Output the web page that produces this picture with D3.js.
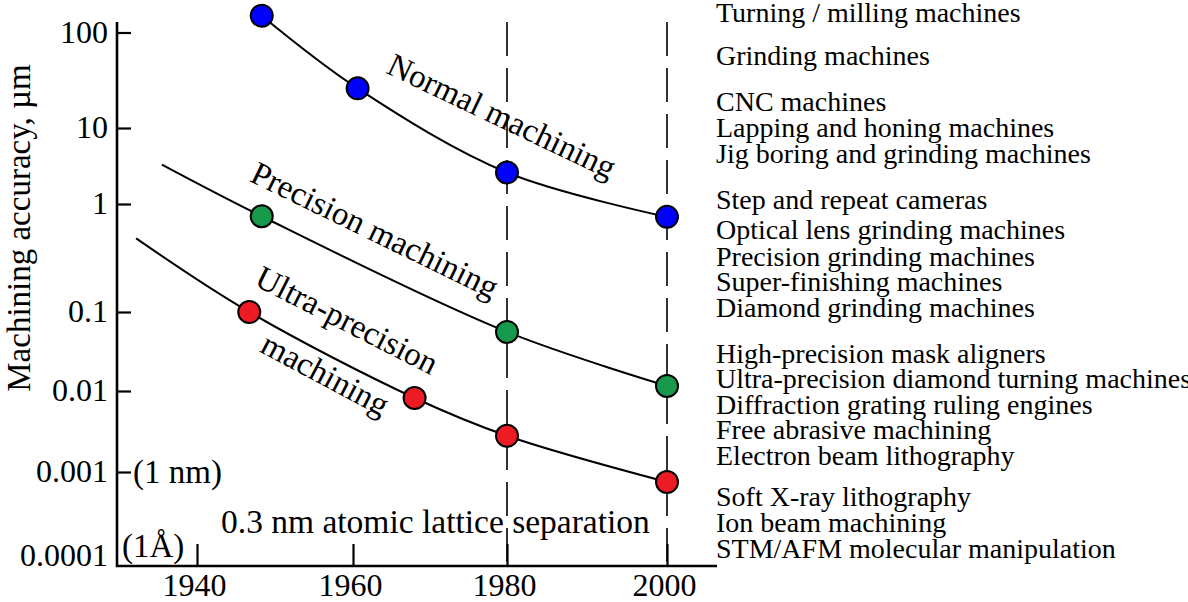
<!DOCTYPE html>
<html>
<head>
<meta charset="utf-8">
<script src="https://cdn.jsdelivr.net/npm/d3@7"></script>
<style>
  html, body { margin: 0; padding: 0; background: #fff; }
  svg { display: block; }
  text { font-family: "Liberation Serif", "Times New Roman", serif; fill: #000; }
</style>
</head>
<body>
<svg id="chart" width="1188" height="602"></svg>
<script>
// ---------------- DATA ----------------
const yTickValues = [100, 10, 1, 0.1, 0.01, 0.001, 0.0001];
const yTickLabels = ["100", "10", "1", "0.1", "0.01", "0.001", "0.0001"];
const xTickValues = [1940, 1960, 1980, 2000];
const xTickLabels = ["1940", "1960", "1980", "2000"];
const dashedYears = [1980, 2000];

// Normal machining (blue)
const normalYears = [1948.3, 1960.6, 1980, 2000];
const normalAcc   = [150, 26, 2.6, 0.76];
// Precision machining (green) - curve starts before first marker
const precisionStart = [1935.5, 3.3];
const precisionYears = [1948.3, 1980, 2000];
const precisionAcc   = [0.77, 0.056, 0.0116];
// Ultra-precision machining (red)
const ultraStart = [1932.2, 0.48];
const ultraYears = [1946.7, 1968.0, 1980, 2000];
const ultraAcc   = [0.1, 0.0082, 0.0028, 0.00076];

const machineList = [
  "Turning / milling machines",
  "Grinding machines",
  "CNC machines",
  "Lapping and honing machines",
  "Jig boring and grinding machines",
  "Step and repeat cameras",
  "Optical lens grinding machines",
  "Precision grinding machines",
  "Super-finishing machines",
  "Diamond grinding machines",
  "High-precision mask aligners",
  "Ultra-precision diamond turning machines",
  "Diffraction grating ruling engines",
  "Free abrasive machining",
  "Electron beam lithography",
  "Soft X-ray lithography",
  "Ion beam machining",
  "STM/AFM molecular manipulation"
];
const machineListY = [22, 65, 111, 137, 163, 209, 239, 266, 291, 317, 363, 388, 414, 439, 465, 506, 532, 558];

// ---------------- LAYOUT ----------------
const svg = d3.select("#chart");
const axisX = 117, axisTop = 22, axisBottom = 566, axisRight = 717;

const x = d3.scaleLinear().domain([1940, 1960, 1980, 2000]).range([197, 353, 507, 667]);
const y = d3.scaleLog().domain(yTickValues).range([32.5, 128, 204, 312, 391, 472, 556]);

const FONT = 32;

// dashed verticals
svg.selectAll("line.dash").data(dashedYears).enter().append("line")
  .attr("x1", d => x(d)).attr("x2", d => x(d))
  .attr("y1", axisTop).attr("y2", axisBottom)
  .attr("stroke", "#000").attr("stroke-width", 1.6)
  .attr("stroke-dasharray", "34,12");

// Y axis
const yAxis = d3.axisLeft(y).tickValues(yTickValues)
  .tickFormat((d, i) => yTickLabels[i])
  .tickSizeInner(-14).tickSizeOuter(0).tickPadding(9);
const gy = svg.append("g").attr("transform", `translate(${axisX},0)`).call(yAxis);
gy.select(".domain").remove();
gy.selectAll(".tick line").attr("stroke", "#000").attr("stroke-width", 2.2)
  .attr("display", d => d === 0.0001 ? "none" : null);
gy.selectAll(".tick text").attr("font-size", FONT)
  .attr("font-family", "Liberation Serif").attr("fill", "#000").attr("dy", "0.3em");

// X axis
const xAxis = d3.axisBottom(x).tickValues(xTickValues)
  .tickFormat((d, i) => xTickLabels[i])
  .tickSizeInner(-22).tickSizeOuter(0).tickPadding(7);
const gx = svg.append("g").attr("transform", `translate(0,${axisBottom})`).call(xAxis);
gx.select(".domain").remove();
gx.selectAll(".tick line").attr("stroke", "#000").attr("stroke-width", 2.2);
gx.selectAll(".tick text").attr("font-size", FONT).attr("dx", -3)
  .attr("font-family", "Liberation Serif").attr("fill", "#000");

// axis lines
svg.append("path")
  .attr("d", `M${axisX},${axisTop}V${axisBottom}H${axisRight}`)
  .attr("fill", "none").attr("stroke", "#000").attr("stroke-width", 2.6);

// Y title
svg.append("text")
  .attr("transform", `translate(30,228) rotate(-90)`)
  .attr("text-anchor", "middle").attr("font-size", 33)
  .text("Machining accuracy, \u00b5m");

// curves
const line = d3.line().x(d => x(d[0])).y(d => y(d[1])).curve(d3.curveCatmullRom.alpha(0.5));
const series = [
  { pts: d3.zip(normalYears, normalAcc), start: null, color: "#0000ff" },
  { pts: d3.zip(precisionYears, precisionAcc), start: precisionStart, color: "#16994a" },
  { pts: d3.zip(ultraYears, ultraAcc), start: ultraStart, color: "#ed1c24" }
];
series.forEach(s => {
  const all = s.start ? [s.start].concat(s.pts) : s.pts;
  svg.append("path").attr("d", line(all))
    .attr("fill", "none").attr("stroke", "#000").attr("stroke-width", 2);
});
series.forEach(s => {
  svg.append("g").selectAll("circle").data(s.pts).enter().append("circle")
    .attr("cx", d => x(d[0])).attr("cy", d => y(d[1])).attr("r", 11)
    .attr("fill", s.color).attr("stroke", "#000").attr("stroke-width", 2);
});

// curve labels
const labels = [
  { t: "Normal machining", x: 497, y: 126, a: 25.5 },
  { t: "Precision machining", x: 370, y: 240, a: 26 },
  { t: "Ultra-precision", x: 342, y: 330, a: 27 },
  { t: "machining", x: 320, y: 384, a: 28 }
];
labels.forEach(l => {
  svg.append("text").attr("transform", `translate(${l.x},${l.y}) rotate(${l.a})`)
    .attr("text-anchor", "middle").attr("font-size", 33).text(l.t);
});

// annotations
svg.append("text").attr("x", 133).attr("y", 483).attr("font-size", 33).text("(1 nm)");
svg.append("text").attr("x", 122).attr("y", 557).attr("font-size", 33).text("(1\u00c5)");
svg.append("text").attr("x", 221).attr("y", 533).attr("font-size", 33.5).text("0.3 nm atomic lattice separation");

// right list
svg.append("g").selectAll("text").data(machineList).enter().append("text")
  .attr("x", 716).attr("y", (d, i) => machineListY[i])
  .attr("font-size", 28).text(d => d);
</script>
</body>
</html>
